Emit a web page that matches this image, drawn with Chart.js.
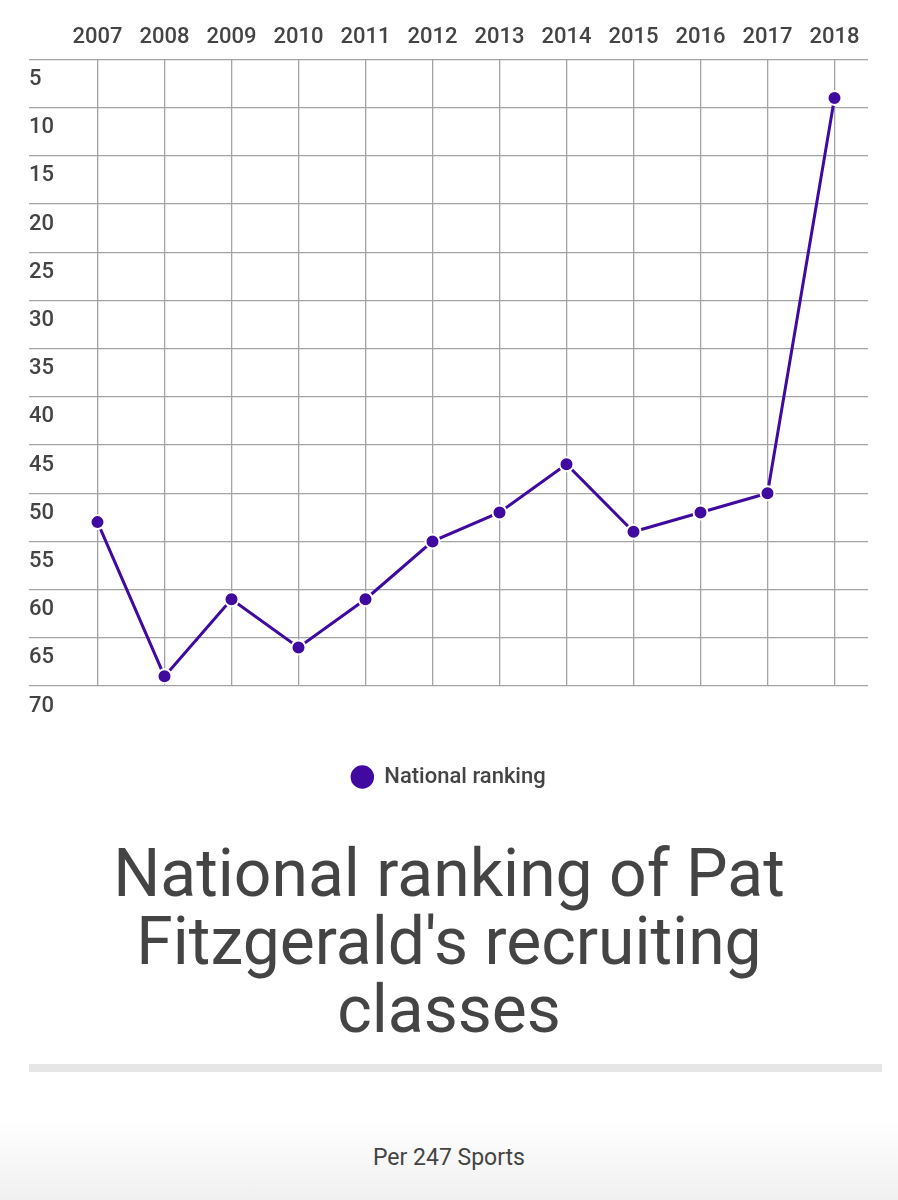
<!DOCTYPE html>
<html>
<head>
<meta charset="utf-8">
<script src="https://cdn.jsdelivr.net/npm/chart.js@4/dist/chart.umd.min.js"></script>
<style>
  body { margin: 0; width: 898px; height: 1200px; background: #fff; font-family: Roboto, sans-serif; position: relative; overflow: hidden; }
  #wrap { position: absolute; left: 0; top: 0; width: 898px; height: 798px; }
  h1 { position: absolute; left: 0; top: 840px; width: 898px; margin: 0; text-align: center;
       font-weight: 400; font-size: 66px; line-height: 68px; color: #444; }
  .rule { position: absolute; left: 29px; top: 1064px; width: 853px; height: 8px; background: #e6e6e6; }
  .fade { position: absolute; left: 0; top: 1120px; width: 898px; height: 80px;
          background: linear-gradient(#fff, #f0f0f0); }
  .source { position: absolute; left: 0; top: 1145px; width: 898px; text-align: center;
            font-size: 23px; line-height: 26px; color: #444; }
</style>
</head>
<body>
<div id="wrap"><canvas id="chart"></canvas></div>
<h1>National ranking of Pat<br>Fitzgerald's recruiting<br>classes</h1>
<div class="rule"></div>
<div class="fade"></div>
<div class="source">Per 247 Sports</div>

<script>
const years = ['2007', '2008', '2009', '2010', '2011', '2012', '2013', '2014', '2015', '2016', '2017', '2018'];
const ranking = [53, 69, 61, 66, 61, 55, 52, 47, 54, 52, 50, 9];
const rankMin = 5;
const rankMax = 70;
const rankStep = 5;

const purple = '#40099f';
const gridGray = '#a3a3a3';
const textGray = '#444';

const ctx = document.querySelector('#chart').getContext('2d');

new Chart(ctx, {
  type: 'line',
  data: {
    labels: years,
    datasets: [
      {
        label: 'National ranking',
        data: ranking,
        borderColor: purple,
        backgroundColor: purple,
        borderWidth: 3,
        tension: 0,
        pointRadius: 7,
        pointBorderWidth: 2,
        pointBackgroundColor: purple,
        pointBorderColor: '#fff'
      }
    ]
  },
  options: {
    responsive: true,
    maintainAspectRatio: false,
    animation: false,
    events: [],
    layout: { padding: { top: 15, left: 29, right: 30, bottom: 0 } },
    scales: {
      x: {
        position: 'top',
        offset: true,
        border: { display: false },
        grid: { color: gridGray, lineWidth: 1.3, drawTicks: false, offset: false },
        ticks: {
          color: textGray,
          padding: 9,
          maxRotation: 0,
          autoSkip: false,
          font: { family: 'Roboto', size: 22, weight: '500' }
        }
      },
      y: {
        reverse: true,
        min: rankMin,
        max: rankMax,
        border: { display: false },
        grid: { color: gridGray, lineWidth: 1.3, tickLength: 35 },
        ticks: {
          stepSize: rankStep,
          color: textGray,
          crossAlign: 'far',
          labelOffset: 20,
          font: { family: 'Roboto', size: 22, weight: '500' }
        },
        afterFit: (scale) => { scale.width = 35 }
      }
    },
    plugins: {
      tooltip: { enabled: false },
      legend: {
        position: 'bottom',
        labels: {
          usePointStyle: true,
          pointStyle: 'circle',
          boxHeight: 18,
          padding: 80,
          color: textGray,
          font: { family: 'Roboto', size: 22, weight: '500' }
        }
      }
    }
  }
})
</script>
</body>
</html>
